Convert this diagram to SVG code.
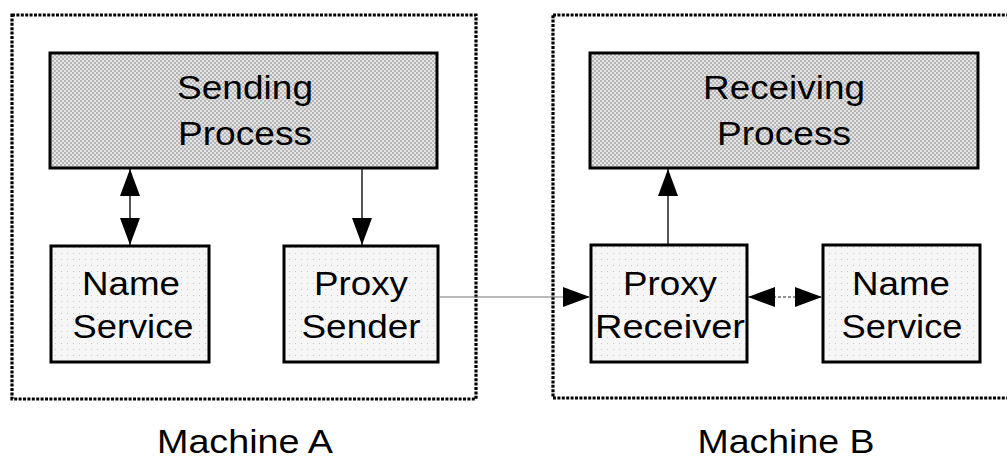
<svg xmlns="http://www.w3.org/2000/svg" width="1007" height="459" viewBox="0 0 1007 459">
  <style>
    .machine { fill: none; stroke: #000; stroke-width: 3.2; stroke-dasharray: 3 1.4; }
    .proc { fill: url(#halftone); stroke: #000; stroke-width: 3; }
    .comp { fill: url(#stipple); stroke: #000; stroke-width: 3; }
    .lbl { font-family: "Liberation Sans", Arial, sans-serif; font-size: 33px; fill: #000; text-anchor: middle; }
    .link { fill: none; stroke: #111; stroke-width: 1.4; }
    .wire { fill: none; stroke: #777; stroke-width: 1.2; }
    .dash { fill: none; stroke: #222; stroke-width: 1.2; stroke-dasharray: 3 2; }
  </style>
  <defs>
    <pattern id="halftone" width="4" height="4" patternUnits="userSpaceOnUse">
      <rect width="4" height="4" fill="#e4e4e4"/>
      <circle cx="1" cy="1" r="0.7" fill="#666"/>
      <circle cx="3" cy="3" r="0.7" fill="#666"/>
    </pattern>
    <pattern id="stipple" width="6" height="6" patternUnits="userSpaceOnUse">
      <rect width="6" height="6" fill="#f6f6f6"/>
      <circle cx="1.5" cy="1.5" r="0.5" fill="#b8b8b8"/>
    </pattern>
    <marker id="head" viewBox="0 0 27 20" refX="27" refY="10" markerWidth="27" markerHeight="20" markerUnits="userSpaceOnUse" orient="auto-start-reverse">
      <path d="M0,0 L27,10 L0,20 z" fill="#000"/>
    </marker>
  </defs>

  <!-- machine boundaries -->
  <g id="machine-a">
    <rect class="machine" x="12" y="15" width="464" height="384"/>
    <text class="lbl" x="245" y="453" textLength="176" lengthAdjust="spacingAndGlyphs">Machine A</text>
  </g>
  <g id="machine-b">
    <rect class="machine" x="553" y="15" width="470" height="383"/>
    <text class="lbl" x="786" y="453" textLength="177" lengthAdjust="spacingAndGlyphs">Machine B</text>
  </g>

  <!-- Machine A components -->
  <g id="sending-process">
    <rect class="proc" x="50" y="53" width="387" height="115"/>
    <text class="lbl" x="245" y="99" textLength="136" lengthAdjust="spacingAndGlyphs">Sending</text>
    <text class="lbl" x="245" y="145" textLength="134" lengthAdjust="spacingAndGlyphs">Process</text>
  </g>
  <g id="name-service-a">
    <rect class="comp" x="51" y="246" width="158" height="116"/>
    <text class="lbl" x="131" y="295" textLength="98" lengthAdjust="spacingAndGlyphs">Name</text>
    <text class="lbl" x="133" y="338" textLength="121" lengthAdjust="spacingAndGlyphs">Service</text>
  </g>
  <g id="proxy-sender">
    <rect class="comp" x="284" y="246" width="154" height="116"/>
    <text class="lbl" x="361" y="295" textLength="94" lengthAdjust="spacingAndGlyphs">Proxy</text>
    <text class="lbl" x="361" y="338" textLength="119" lengthAdjust="spacingAndGlyphs">Sender</text>
  </g>

  <!-- Machine B components -->
  <g id="receiving-process">
    <rect class="proc" x="590" y="53" width="388" height="115"/>
    <text class="lbl" x="784" y="99" textLength="162" lengthAdjust="spacingAndGlyphs">Receiving</text>
    <text class="lbl" x="784" y="145" textLength="134" lengthAdjust="spacingAndGlyphs">Process</text>
  </g>
  <g id="proxy-receiver">
    <rect class="comp" x="591" y="245" width="156" height="117"/>
    <text class="lbl" x="670" y="295" textLength="94" lengthAdjust="spacingAndGlyphs">Proxy</text>
    <text class="lbl" x="670" y="338" textLength="150" lengthAdjust="spacingAndGlyphs">Receiver</text>
  </g>
  <g id="name-service-b">
    <rect class="comp" x="823" y="245" width="157" height="117"/>
    <text class="lbl" x="901" y="295" textLength="98" lengthAdjust="spacingAndGlyphs">Name</text>
    <text class="lbl" x="902" y="338" textLength="121" lengthAdjust="spacingAndGlyphs">Service</text>
  </g>

  <!-- connectors -->
  <g id="connectors">
    <line class="link" x1="130" y1="169" x2="130" y2="245" marker-start="url(#head)" marker-end="url(#head)"/>
    <line class="link" x1="362" y1="169" x2="362" y2="245" marker-end="url(#head)"/>
    <line class="wire" x1="439" y1="297" x2="590" y2="297" marker-end="url(#head)"/>
    <line class="link" x1="668" y1="244" x2="668" y2="169" marker-end="url(#head)"/>
    <line class="dash" x1="748" y1="297" x2="822" y2="297" marker-start="url(#head)" marker-end="url(#head)"/>
  </g>
</svg>
